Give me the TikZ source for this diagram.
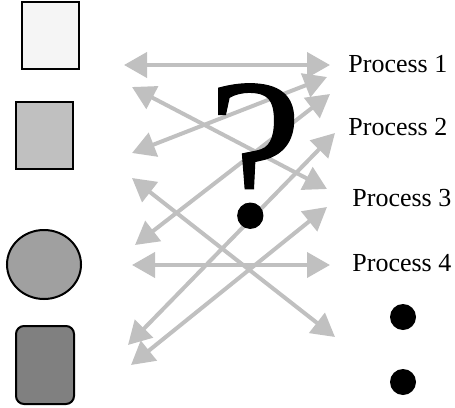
\documentclass[tikz,border=0pt]{standalone}
\usepackage{fontspec}
\setmainfont{Liberation Serif}
\newfontfamily\markfont[FakeBold=0.5]{Liberation Serif}
\usetikzlibrary{positioning, arrows.meta, shapes.geometric}
\definecolor{linkgray}{RGB}{192,192,192}
\definecolor{palegray}{RGB}{245,245,245}
\definecolor{midgray}{RGB}{192,192,192}
\definecolor{roundgray}{RGB}{160,160,160}
\definecolor{darkgray}{RGB}{128,128,128}

\begin{document}
\begin{tikzpicture}[x=0.5pt, y=-0.5pt,
  shapebox/.style={draw, line width=1pt, inner sep=0pt},
  proc/.style={font=\fontsize{13}{15}\selectfont, anchor=west, inner sep=0pt},
  link/.style={{Triangle[length=11.5pt,width=12.5pt]}-{Triangle[length=11.5pt,width=12.5pt]}, line width=2pt, linkgray},
  dot/.style={circle, fill=black, inner sep=0pt, minimum size=13pt}]
  \useasboundingbox (0,0) rectangle (455,407);
  % shapes on the left
  \node[shapebox, fill=palegray, minimum width=28.5pt, minimum height=33.5pt] (sq1) at (50.5,35.5) {};
  \node[shapebox, fill=midgray, minimum width=28.5pt, minimum height=33.5pt] (sq2) at (44.5,135.5) {};
  \node[shapebox, ellipse, fill=roundgray, minimum width=37pt, minimum height=34.5pt] (circ) at (44,264.5) {};
  \node[shapebox, rounded corners=4pt, fill=darkgray, minimum width=29pt, minimum height=39pt] (rrect) at (45,365) {};
  % processes on the right
  \node[proc] (p1) at (348,64) {Process 1};
  \node[proc] (p2) at (348,127) {Process 2};
  \node[proc] (p3) at (352,198) {Process 3};
  \node[proc] (p4) at (352,263) {Process 4};
  \node[dot] (d1) at (403,317) {};
  \node[dot] (d2) at (403,382) {};
  % crossing arrows
  \foreach \n/\lx/\ly/\rx/\ry in {1/124/65/330/65, 2/132/87/327/189, 3/132/153/327/77,
      4/132/178/335/337, 5/135/245/330/94, 6/132/265/330/265, 7/128/345/335/133, 8/131/365/327/207} {
    \coordinate (l\n) at (\lx,\ly);
    \coordinate (r\n) at (\rx,\ry);
    \draw[link] (l\n) -- (r\n);
  }
  \node[inner sep=0pt, font=\markfont\fontsize{107}{112}\selectfont] (q) at (255,156) {?};
\end{tikzpicture}
\end{document}
